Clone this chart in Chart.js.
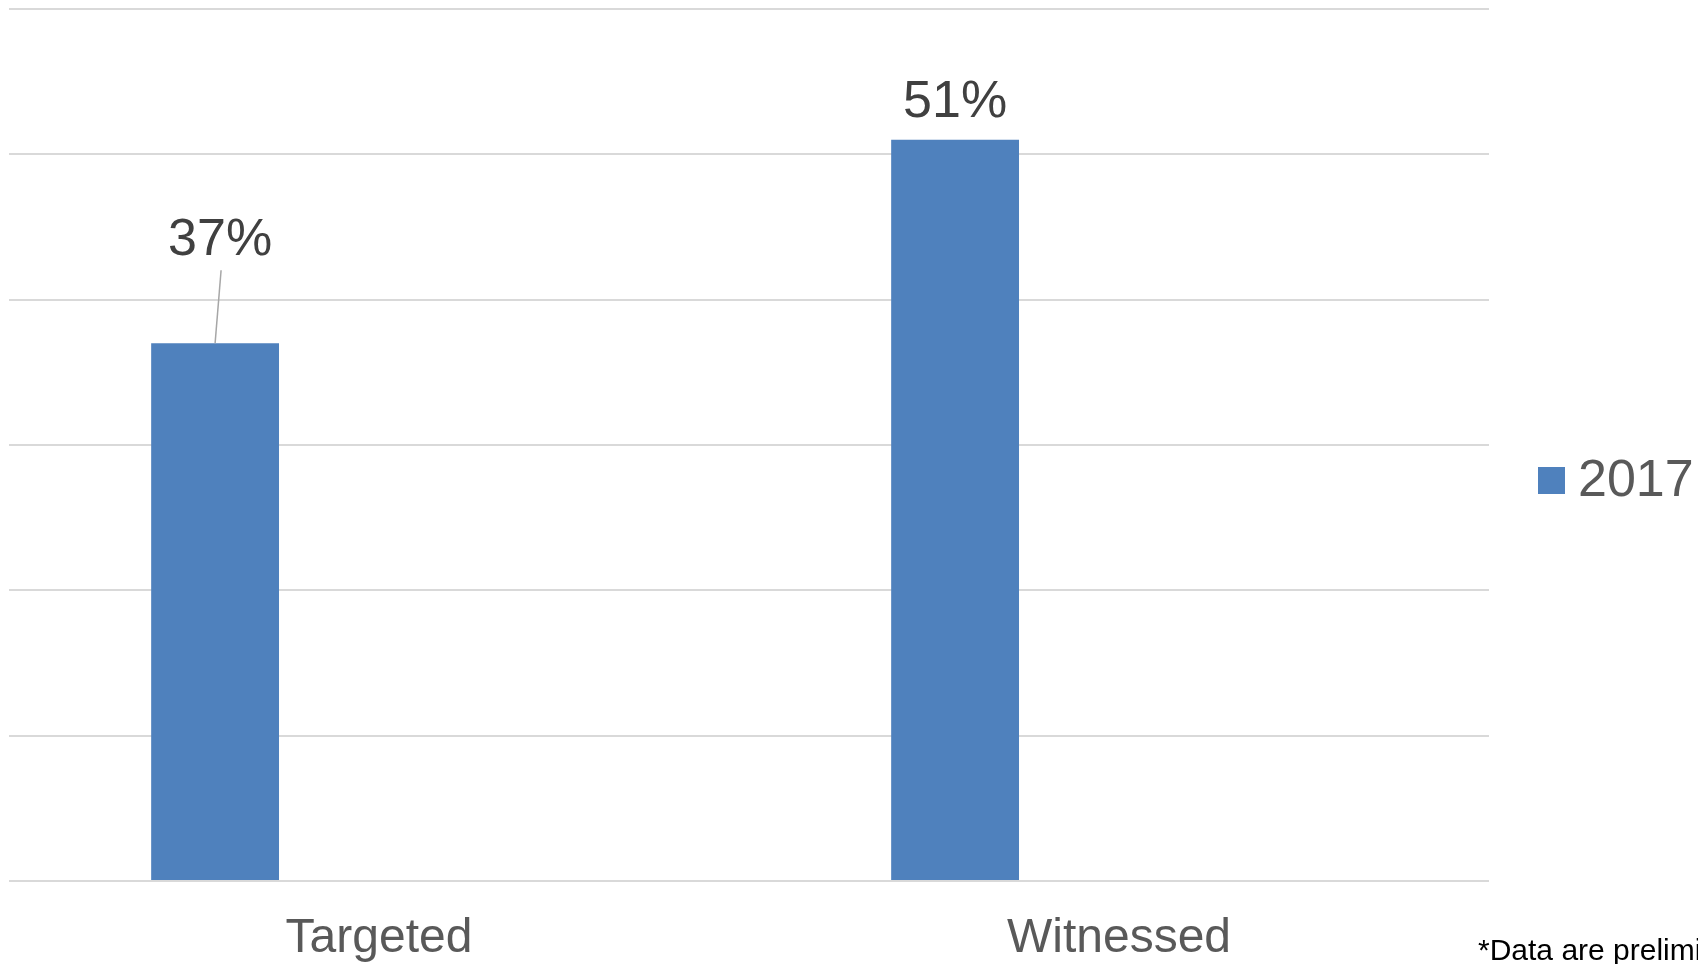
<!DOCTYPE html>
<html>
<head>
<meta charset="utf-8">
<script src="https://cdn.jsdelivr.net/npm/chart.js@4/dist/chart.umd.min.js"></script>
<style>
  html, body { margin: 0; padding: 0; background: #fff; }
  #wrap { width: 1698px; height: 964px; position: relative; }
</style>
</head>
<body>
<div id="wrap"><canvas id="chart" width="1698" height="964"></canvas></div>
<script>
var categories = ["Targeted", "Witnessed"];
var values2017 = [37, 51];
var emptySlot = [null, null]; // reserves the second slot in each group, as in the original
var seriesName = "2017";
var footnote = "*Data are preliminary";

var barColor = '#4f81bd';
var fontFamily = '"Liberation Sans", Arial, Helvetica, sans-serif';

// where each value label sits relative to its bar top
var labelShift = [{dx: 5, dy: -88, leader: true}, {dx: 0, dy: -23, leader: false}];

var extras = {
    id: 'extras',
    afterDatasetsDraw: function(chart) {
        var c = chart.ctx;
        var meta = chart.getDatasetMeta(0);
        c.save();
        c.font = '52px ' + fontFamily;
        c.fillStyle = '#404040';
        c.textAlign = 'center';
        c.textBaseline = 'alphabetic';
        meta.data.forEach(function(bar, i) {
            var s = labelShift[i];
            var tx = bar.x + s.dx, ty = bar.y + s.dy;
            c.fillText(values2017[i] + '%', tx, ty);
            if (s.leader) {
                c.strokeStyle = '#a6a6a6';
                c.lineWidth = 1.5;
                c.beginPath();
                c.moveTo(tx + 1, ty + 15);
                c.lineTo(bar.x, bar.y);
                c.stroke();
            }
        });
        // legend
        var ca = chart.chartArea;
        var midY = (ca.top + ca.bottom) / 2 + 35;
        c.fillStyle = barColor;
        c.fillRect(1538, midY - 13, 27, 27);
        c.fillStyle = '#595959';
        c.textAlign = 'left';
        c.textBaseline = 'middle';
        c.fillText(seriesName, 1578, midY + 2);
        // footnote
        c.font = '30px ' + fontFamily;
        c.fillStyle = '#000';
        c.textBaseline = 'alphabetic';
        c.fillText(footnote, 1478, 960);
        c.restore();
    }
};

var ctx = document.getElementById('chart').getContext('2d');
var myChart = new Chart(ctx, {
    type: 'bar',
    data: {
        labels: categories,
        datasets: [
            {
                label: seriesName,
                data: values2017,
                backgroundColor: barColor,
                borderWidth: 0,
                categoryPercentage: 0.886,
                barPercentage: 0.39
            },
            {
                label: '',
                data: emptySlot,
                backgroundColor: barColor,
                categoryPercentage: 0.886,
                barPercentage: 0.39
            }
        ]
    },
    options: {
        responsive: false,
        animation: false,
        layout: { padding: { left: 9, right: 209, top: 9, bottom: 0 } },
        plugins: {
            legend: { display: false },
            title: { display: false },
            tooltip: { enabled: false }
        },
        scales: {
            x: {
                grid: { display: false },
                border: { display: false },
                ticks: {
                    color: '#595959',
                    font: { family: fontFamily, size: 48 },
                    padding: 21
                },
                afterFit: function(scale) { scale.height = 83; }
            },
            y: {
                min: 0,
                max: 60,
                ticks: { display: false, stepSize: 10 },
                grid: { color: '#d9d9d9', lineWidth: 2, drawTicks: false },
                border: { display: false }
            }
        }
    },
    plugins: [extras]
});
</script>
</body>
</html>
